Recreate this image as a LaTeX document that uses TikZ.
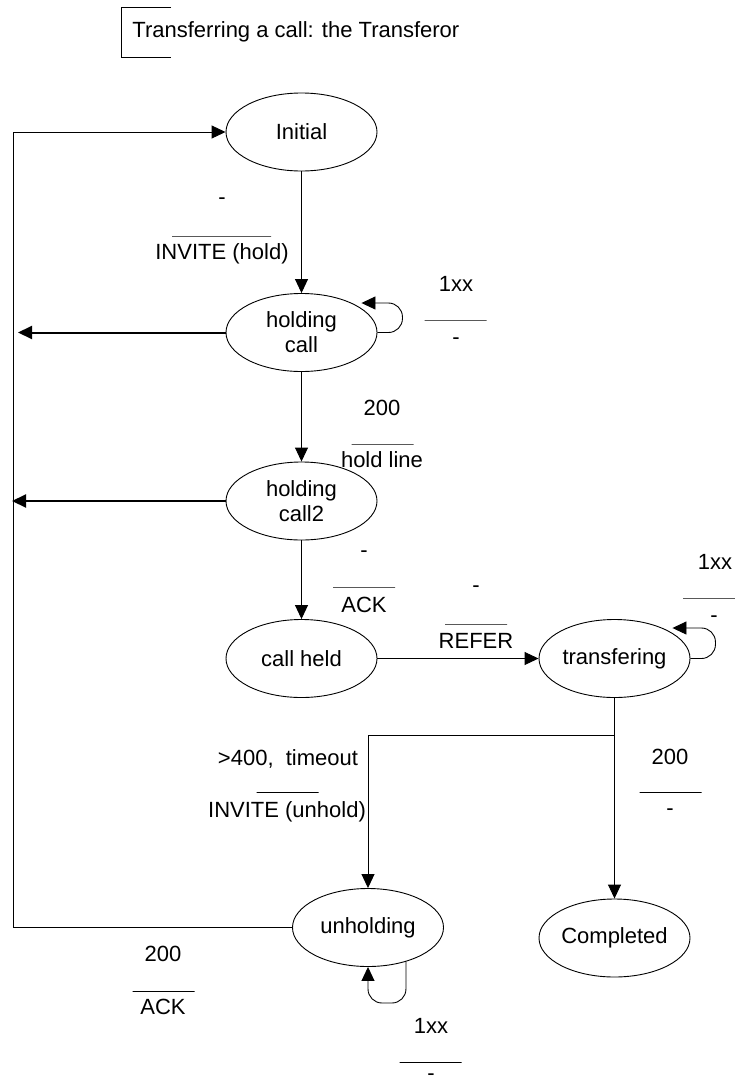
\documentclass[tikz,border=0pt]{standalone}
\usepackage{fontspec}
\setmainfont{Liberation Sans}
\usetikzlibrary{positioning,arrows.meta,shapes.geometric}

\begin{document}
\begin{tikzpicture}[
    x=1pt, y=-1pt,
    line width=0.9pt,
    every node/.style={font=\fontsize{22}{25}\selectfont},
    state/.style={draw, ellipse, minimum width=151pt, minimum height=78pt, inner sep=0pt, align=center},
    lbl/.style={inner sep=0pt},
    bar/.style={draw, inner sep=0pt, minimum height=0pt, minimum width=62pt},
    arr/.style={-{Triangle[length=14pt, width=13pt]}},
    exitarr/.style={-{Triangle[length=14pt, width=13pt]}, line width=2pt}
]
\useasboundingbox (0,0) rectangle (735,1084);

% title
\node[lbl, anchor=west] (title) at (132,32) {Transferring a call: the Transferor};
\draw (171,7) -- (121,7) -- (121,57) -- (171,57);

% states
\node[state] (init) at (301.5,132) {Initial};
\node[state] (hold) at (301.5,332.5) {holding\\call};
\node[state] (hold2) at (301.5,501) {holding\\call2};
\node[state] (held) at (301.5,658.5) {call held};
\node[state] (xfer) at (614.5,658.5) {transfering};
\node[state] (unhold) at (368,927.5) {unholding};
\node[state] (done) at (614.5,938) {Completed};

\coordinate (rail) at (13,0);
\coordinate (exit1) at (18,332.5);
\coordinate (exit2) at (12,501);
\coordinate (fork) at (614.5,735);

% transitions
\draw[arr] (init) -- (hold);
\draw[arr] (hold) -- (hold2);
\draw[arr] (hold2) -- (held);
\draw[arr] (held) -- (xfer);
\draw[arr] (xfer.south) -- (done.north);
\draw[arr] (fork) -| (unhold.north);
\draw[arr] (unhold.west) -- (unhold.west -| rail) -- (rail |- init.west) -- (init.west);
\draw[exitarr] (hold.west) -- (exit1);
\draw[exitarr] (hold2.west) -- (exit2);

% self loops
\draw[arr, rounded corners=14pt] (hold.east) -- ++(25,0) -- ++(0,-29.5) -- ++(-41,0);
\draw[arr, rounded corners=14pt] (xfer.east) -- ++(25,0) -- ++(0,-30.5) -- ++(-43,0);
\draw[arr, rounded corners=14pt] (unhold.-42) -- (unhold.-42 |- 0,1003) -- (unhold.south |- 0,1003) -- (unhold.south);

% events
\node[lbl] (e1t) at (222,201) {-};
\node[bar, minimum width=99pt] (e1r) at (221.5,236) {};
\node[lbl] (e1b) at (222,254) {INVITE (hold)};

\node[lbl] (e2t) at (456,284) {1xx};
\node[bar] (e2r) at (455.5,320) {};
\node[lbl] (e2b) at (456,341) {-};

\node[lbl] (e3t) at (382,408) {200};
\node[bar] (e3r) at (382.5,444) {};
\node[lbl] (e3b) at (382,460) {hold line};

\node[lbl] (e4t) at (364,554) {-};
\node[bar] (e4r) at (364,587) {};
\node[lbl] (e4b) at (364,605) {ACK};

\node[lbl] (e5t) at (476,589) {-};
\node[bar] (e5r) at (476,624) {};
\node[lbl] (e5b) at (476,641) {REFER};

\node[lbl] (e6t) at (715,562) {1xx};
\node[bar, minimum width=52pt] (e6r) at (709,598) {};
\node[lbl] (e6b) at (714,619) {-};

\node[lbl] (e7t) at (288,759) {>400,\ \ timeout};
\node[bar] (e7r) at (287.5,792) {};
\node[lbl] (e7b) at (287,812) {INVITE (unhold)};

\node[lbl] (e8t) at (670,757) {200};
\node[bar] (e8r) at (670.5,792) {};
\node[lbl] (e8b) at (670,812) {-};

\node[lbl] (e9t) at (163,954) {200};
\node[bar] (e9r) at (163.5,991) {};
\node[lbl] (e9b) at (163,1007) {ACK};

\node[lbl] (e10t) at (431,1026) {1xx};
\node[bar] (e10r) at (430.5,1062) {};
\node[lbl] (e10b) at (431,1077) {-};

\end{tikzpicture}
\end{document}
